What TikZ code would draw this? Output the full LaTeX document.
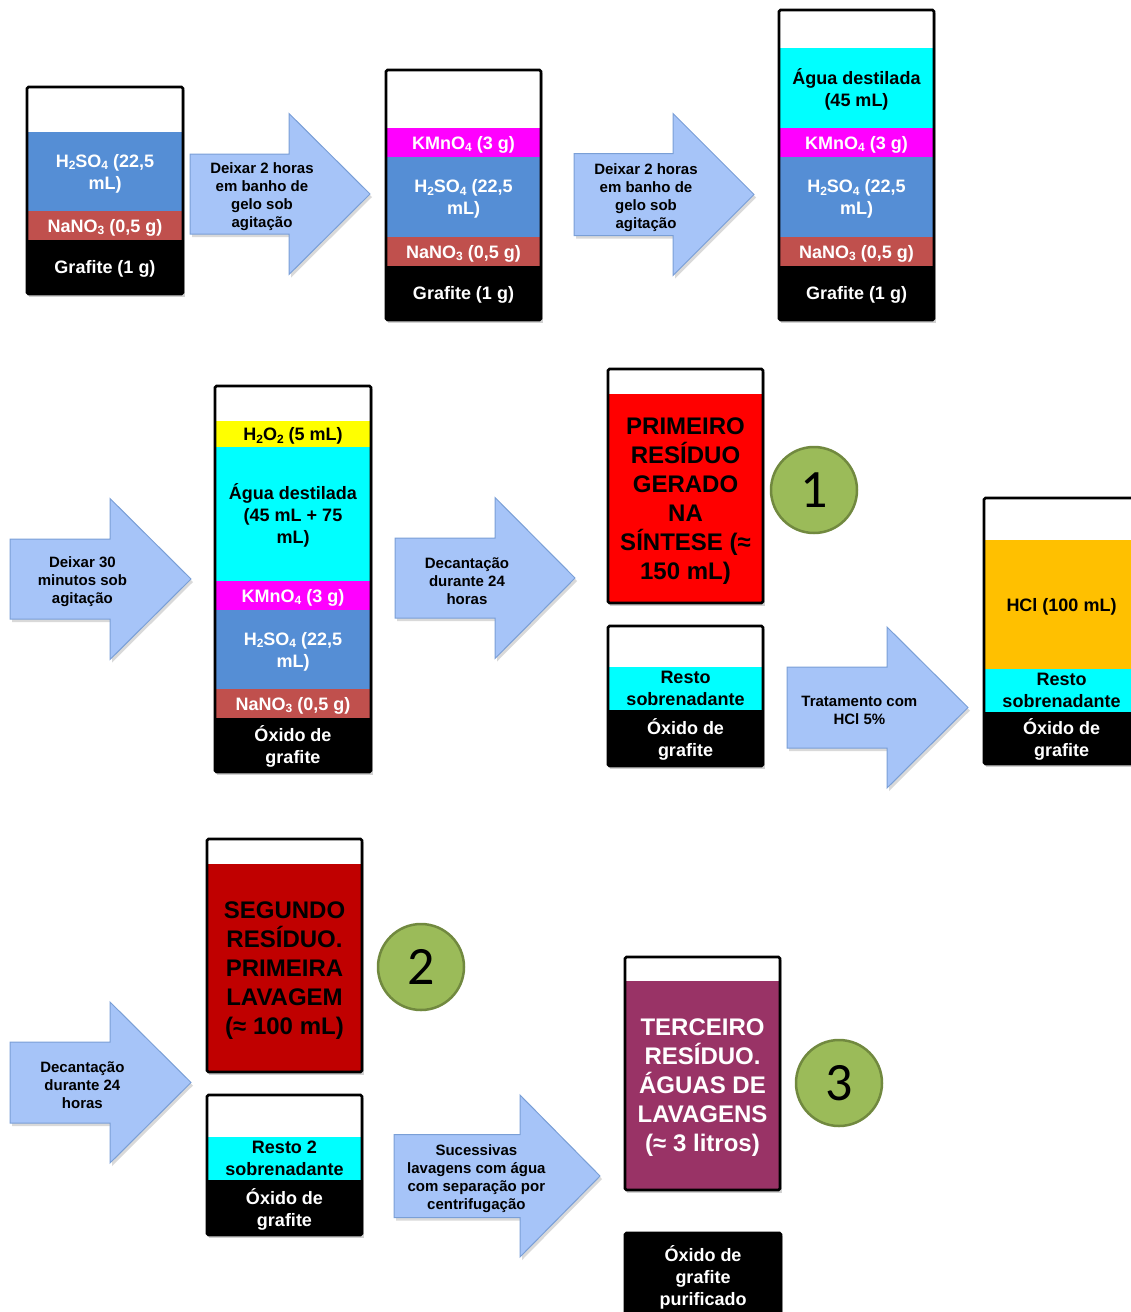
\documentclass[tikz,border=0pt]{standalone}
\usepackage{fontspec}
\setmainfont{Liberation Sans}
\newfontfamily\badgefont{Carlito}
\usetikzlibrary{backgrounds}

\definecolor{acid}{HTML}{558ED5}
\definecolor{nitrate}{HTML}{C0504D}
\definecolor{perm}{HTML}{FF00FF}
\definecolor{water}{HTML}{00FFFF}
\definecolor{perox}{HTML}{FFFF00}
\definecolor{hclfill}{HTML}{FFC000}
\definecolor{wasteA}{HTML}{FF0000}
\definecolor{wasteB}{HTML}{C00000}
\definecolor{wasteC}{HTML}{993366}
\definecolor{arrowfill}{HTML}{A6C4F8}
\definecolor{arrowedge}{HTML}{7A9FD6}
\definecolor{badgefill}{HTML}{9BBB59}
\definecolor{badgeedge}{HTML}{71893F}

\newcommand\boxfont{\bfseries\fontsize{18}{22}\selectfont}
\newcommand\arrowfont{\bfseries\fontsize{15}{18}\selectfont}
\newcommand\bigfont{\bfseries\fontsize{24}{29}\selectfont}

\tikzset{
  layer/.style={rectangle, inner sep=0pt, outer sep=0pt, anchor=north west,
                align=center, font=\boxfont, text depth=0pt},
  big/.style={font=\bigfont},
  frame/.style={draw=black, line width=2.6pt, rounded corners=1.5pt},
  boxshadow/.style={fill=black, opacity=0.18},
  arrowbody/.style={fill=arrowfill, draw=arrowedge, line width=1pt, line join=miter},
  arrowshadow/.style={fill=black, opacity=0.15},
  arrowtext/.style={align=center, font=\arrowfont, inner sep=0pt, yshift=-3pt},
  badge/.style={circle, fill=badgefill, draw=badgeedge, line width=2.5pt,
                minimum size=86pt, inner sep=0pt, font=\badgefont\fontsize{54}{54}\selectfont},
}

% one coloured layer of a beaker: [options] name, left x, top y, height, width, fill, text colour, text
\newcommand\lay[9][]{%
  \node[layer, fill=#7, text=#8, minimum width=#6pt, minimum height=#5pt, #1] (#2) at (#3,#4) {#9};}

% outline and soft shadow of a beaker, from its top layer to its bottom layer
\newcommand\beaker[2]{%
  \begin{pgfonlayer}{background}
    \fill[boxshadow] ([shift={(2,3)}]#1.north west) rectangle ([shift={(2,3)}]#2.south east);
  \end{pgfonlayer}
  \draw[frame] (#1.north west) rectangle (#2.south east);}

% block arrow: name, left x, centre y, shaft half height, head x, head half height, tip x, text
\newcommand\flowarrow[8]{%
  \fill[arrowshadow] (#2+2,#3-#4+3) -- (#5+2,#3-#4+3) -- (#5+2,#3-#6+3) -- (#7+2,#3+3)
     -- (#5+2,#3+#6+3) -- (#5+2,#3+#4+3) -- (#2+2,#3+#4+3) -- cycle;
  \draw[arrowbody] (#2,#3-#4) -- (#5,#3-#4) -- (#5,#3-#6) -- (#7,#3)
     -- (#5,#3+#6) -- (#5,#3+#4) -- (#2,#3+#4) -- cycle;
  \node[arrowtext] (#1) at ({#2+0.4*(#7-#2)},#3) {#8};}

% chemical subscript, smaller and lowered
\newcommand\sub[1]{\raisebox{-0.3ex}{\fontsize{12}{12}\selectfont #1}}

\begin{document}
\begin{tikzpicture}[x=1pt,y=-1pt]
\useasboundingbox (0,0) rectangle (1131,1312);
\clip (0,0) rectangle (1131,1312);

% ---- step 1: sulfuric acid, nitrate and graphite
\lay{bA0}{27}{87}{45}{156}{white}{black}{}
\lay{bA1}{27}{132}{79}{156}{acid}{white}{H\sub{2}SO\sub{4} (22,5\\mL)}
\lay{bA2}{27}{211}{29}{156}{nitrate}{white}{NaNO\sub{3} (0,5 g)}
\lay{bA3}{27}{240}{54}{156}{black}{white}{Grafite (1 g)}
\beaker{bA0}{bA3}

\flowarrow{arA}{190}{194}{40}{289}{80.5}{370}{Deixar 2 horas\\em banho de\\gelo sob\\agitação}

% ---- step 2: permanganate added
\lay{bB0}{386}{70}{58}{155}{white}{black}{}
\lay{bB1}{386}{128}{29}{155}{perm}{white}{KMnO\sub{4} (3 g)}
\lay{bB2}{386}{157}{80}{155}{acid}{white}{H\sub{2}SO\sub{4} (22,5\\mL)}
\lay{bB3}{386}{237}{29}{155}{nitrate}{white}{NaNO\sub{3} (0,5 g)}
\lay{bB4}{386}{266}{54}{155}{black}{white}{Grafite (1 g)}
\beaker{bB0}{bB4}

\flowarrow{arB}{574}{194.5}{41}{673}{81}{754}{Deixar 2 horas\\em banho de\\gelo sob\\agitação}

% ---- step 3: distilled water added
\lay{bC0}{779}{10}{38}{155}{white}{black}{}
\lay{bC1}{779}{48}{80}{155}{water}{black}{Água destilada\\(45 mL)}
\lay{bC2}{779}{128}{29}{155}{perm}{white}{KMnO\sub{4} (3 g)}
\lay{bC3}{779}{157}{80}{155}{acid}{white}{H\sub{2}SO\sub{4} (22,5\\mL)}
\lay{bC4}{779}{237}{29}{155}{nitrate}{white}{NaNO\sub{3} (0,5 g)}
\lay{bC5}{779}{266}{54}{155}{black}{white}{Grafite (1 g)}
\beaker{bC0}{bC5}

% ---- step 4: peroxide added, graphite oxide formed
\flowarrow{arC}{10}{579}{40}{110}{80.5}{191}{Deixar 30\\minutos sob\\agitação}

\lay{bD0}{215}{386}{35}{156}{white}{black}{}
\lay{bD1}{215}{421}{26}{156}{perox}{black}{H\sub{2}O\sub{2} (5 mL)}
\lay{bD2}{215}{447}{134}{156}{water}{black}{Água destilada\\(45 mL + 75\\mL)}
\lay{bD3}{215}{581}{29}{156}{perm}{white}{KMnO\sub{4} (3 g)}
\lay{bD4}{215}{610}{79}{156}{acid}{white}{H\sub{2}SO\sub{4} (22,5\\mL)}
\lay{bD5}{215}{689}{29}{156}{nitrate}{white}{NaNO\sub{3} (0,5 g)}
\lay{bD6}{215}{718}{54}{156}{black}{white}{Óxido de\\grafite}
\beaker{bD0}{bD6}

\flowarrow{arD}{395}{578}{40}{495}{80.5}{575}{Decantação\\durante 24\\horas}

% ---- first waste
\lay{bE0}{608}{369}{25}{155}{white}{black}{}
\lay[big]{bE1}{608}{394}{209}{155}{wasteA}{black}{PRIMEIRO\\RESÍDUO\\GERADO\\NA\\SÍNTESE (≈\\150 mL)}
\beaker{bE0}{bE1}
\node[badge] (nA) at (814,490) {1};

\lay{bF0}{608}{626}{41}{155}{white}{black}{}
\lay{bF1}{608}{667}{43}{155}{water}{black}{Resto\\sobrenadante}
\lay{bF2}{608}{710}{56}{155}{black}{white}{Óxido de\\grafite}
\beaker{bF0}{bF2}

\flowarrow{arE}{787}{707.5}{40.5}{887}{80.5}{968}{Tratamento com\\HCl 5\%}

\lay{bG0}{984}{498}{42}{155}{white}{black}{}
\lay{bG1}{984}{540}{129}{155}{hclfill}{black}{HCl (100 mL)}
\lay{bG2}{984}{669}{43}{155}{water}{black}{Resto\\sobrenadante}
\lay{bG3}{984}{712}{52}{155}{black}{white}{Óxido de\\grafite}
\beaker{bG0}{bG3}

% ---- second waste
\flowarrow{arF}{10}{1082.5}{40.5}{110}{80.5}{191}{Decantação\\durante 24\\horas}

\lay{bH0}{207}{839}{25}{155}{white}{black}{}
\lay[big]{bH1}{207}{864}{208}{155}{wasteB}{black}{SEGUNDO\\RESÍDUO.\\PRIMEIRA\\LAVAGEM\\(≈ 100 mL)}
\beaker{bH0}{bH1}
\node[badge] (nB) at (421,967) {2};

\lay{bI0}{207}{1095}{42}{155}{white}{black}{}
\lay{bI1}{207}{1137}{43}{155}{water}{black}{Resto 2\\sobrenadante}
\lay{bI2}{207}{1180}{55}{155}{black}{white}{Óxido de\\grafite}
\beaker{bI0}{bI2}

\flowarrow{arG}{394}{1176}{41.5}{520}{81}{600}{Sucessivas\\lavagens com água\\com separação por\\centrifugação}

% ---- third waste and purified product
\lay{bJ0}{625}{957}{24}{155}{white}{black}{}
\lay[big]{bJ1}{625}{981}{209}{155}{wasteC}{white}{TERCEIRO\\RESÍDUO.\\ÁGUAS DE\\LAVAGENS\\(≈ 3 litros)}
\beaker{bJ0}{bJ1}
\node[badge] (nC) at (839,1083) {3};

\lay{bK0}{625}{1233}{85}{156}{black}{white}{Óxido de\\grafite\\purificado}
\beaker{bK0}{bK0}

\end{tikzpicture}
\end{document}
